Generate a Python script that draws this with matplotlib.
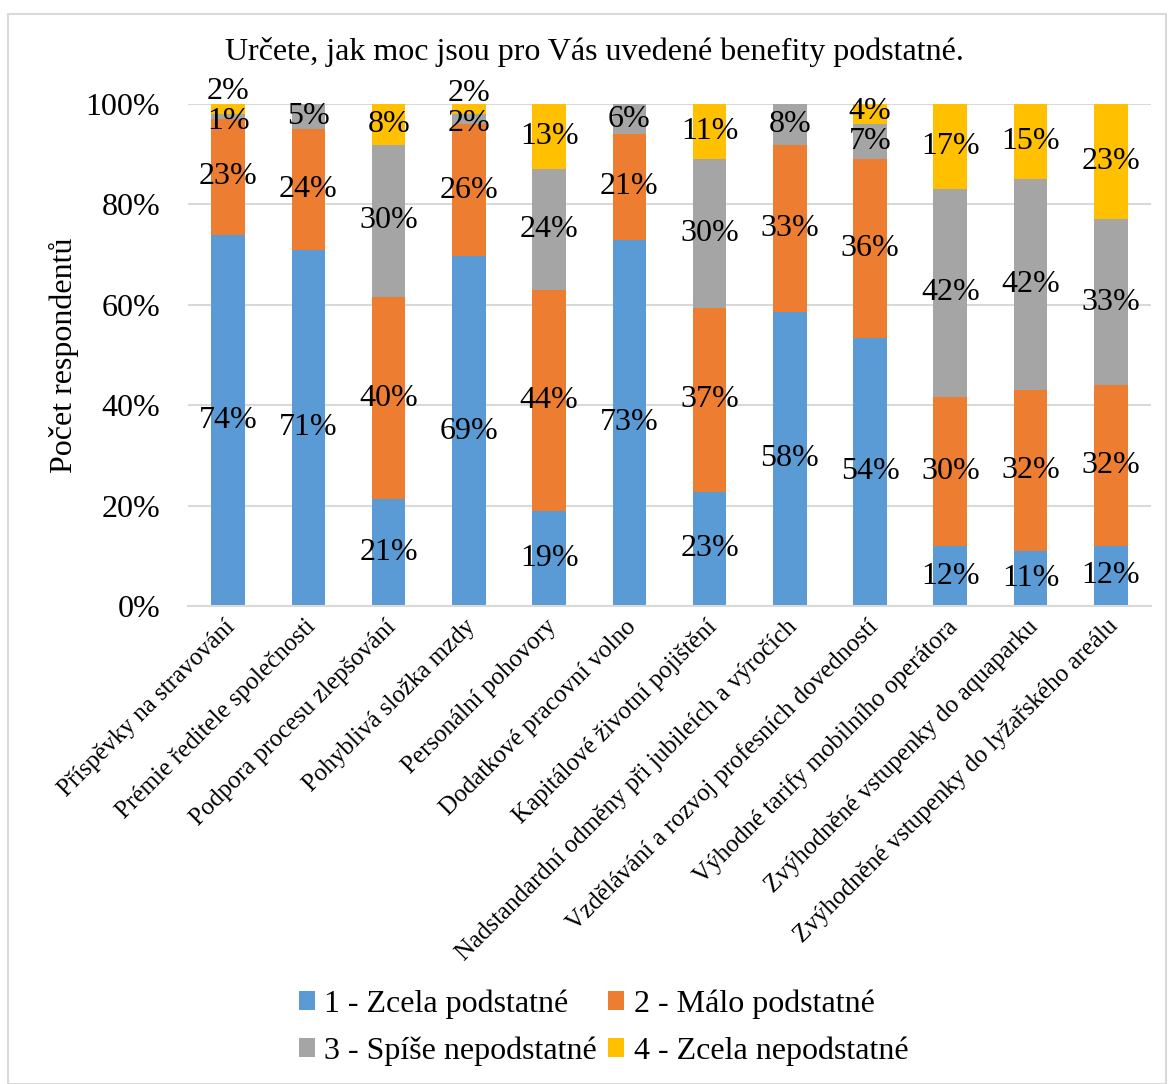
import numpy as np
import matplotlib.pyplot as plt
import matplotlib.transforms as mtransforms
from matplotlib.patches import Rectangle
from matplotlib.ticker import PercentFormatter

plt.rcParams['font.family'] = ['Liberation Serif', 'DejaVu Serif']

categories = [
    "Příspěvky na stravování",
    "Prémie ředitele společnosti",
    "Podpora procesu zlepšování",
    "Pohyblivá složka mzdy",
    "Personální pohovory",
    "Dodatkové pracovní volno",
    "Kapitálové životní pojištění",
    "Nadstandardní odměny při jubileích a výročích",
    "Vzdělávání a rozvoj profesních dovedností",
    "Výhodné tarify mobilního operátora",
    "Zvýhodněné vstupenky do aquaparku",
    "Zvýhodněné vstupenky do lyžařského areálu",
]

series_names = [
    "1 - Zcela podstatné",
    "2 - Málo podstatné",
    "3 - Spíše nepodstatné",
    "4 - Zcela nepodstatné",
]

zcela_podstatne = [74, 71, 21, 69, 19, 73, 23, 58, 54, 12, 11, 12]
malo_podstatne = [23, 24, 40, 26, 44, 21, 37, 33, 36, 30, 32, 32]
spise_nepodstatne = [1, 5, 30, 2, 24, 6, 30, 8, 7, 42, 42, 33]
zcela_nepodstatne = [2, 0, 8, 2, 13, 0, 11, 0, 4, 17, 15, 23]

colors = ["#5B9BD5", "#ED7D31", "#A5A5A5", "#FFC000"]

values = np.array([zcela_podstatne, malo_podstatne, spise_nepodstatne, zcela_nepodstatne], dtype=float)
shares = values / values.sum(axis=0)
bottoms = np.vstack([np.zeros(values.shape[1]), np.cumsum(shares, axis=0)[:-1]])
centers = bottoms + shares / 2

# push apart labels of thin neighbouring segments (upper one moves more)
min_gap = 0.06
label_y = centers.copy()
for j in range(values.shape[1]):
    for i in range(1, values.shape[0]):
        if values[i, j] == 0:
            continue
        prev = [k for k in range(i) if values[k, j] > 0]
        if not prev:
            continue
        p = prev[-1]
        gap = label_y[i, j] - label_y[p, j]
        if gap < min_gap:
            d = min_gap - gap
            label_y[i, j] += 0.8 * d
            label_y[p, j] -= 0.2 * d

fig = plt.figure(figsize=(11.7, 10.84), dpi=100)
ax = fig.add_axes([0.1607, 0.441, 0.823, 0.463])

x = np.arange(len(categories))
handles = []
for i, (name, color) in enumerate(zip(series_names, colors)):
    bars = ax.bar(x, shares[i], 0.42, bottom=bottoms[i], color=color, label=name, zorder=2)
    handles.append(bars)
    for j in range(len(categories)):
        if values[i, j] > 0:
            ax.text(x[j], label_y[i, j], f"{int(values[i, j])}%", ha='center', va='center',
                    fontsize=23, color='black', zorder=3)

ax.set_xlim(-0.5, len(categories) - 0.5)
ax.set_ylim(0, 1)
ax.set_yticks(np.arange(0, 1.01, 0.2))
ax.yaxis.set_major_formatter(PercentFormatter(1.0, decimals=0))
ax.tick_params(axis='y', labelsize=23, length=0, pad=20)
ax.tick_params(axis='x', length=0, pad=4)
ax.set_xticks(x)
ax.set_xticklabels(categories, rotation=45, ha='right', va='top',
                   rotation_mode='anchor', fontsize=18)
shift = mtransforms.ScaledTranslation(-0.04, -0.04, fig.dpi_scale_trans)
for lbl in ax.get_xticklabels():
    lbl.set_transform(lbl.get_transform() + shift)
ax.grid(axis='y', color='#D9D9D9', linewidth=1.5, zorder=0)
ax.set_axisbelow(True)
for side in ['top', 'right', 'left']:
    ax.spines[side].set_visible(False)
ax.spines['bottom'].set_color('#D9D9D9')
ax.spines['bottom'].set_linewidth(1.5)

ax.set_ylabel("Počet respondentů", fontsize=23, labelpad=5)
fig.text(0.508, 0.952, "Určete, jak moc jsou pro Vás uvedené benefity podstatné.",
         ha='center', va='center', fontsize=23)

# legend reads row-wise: 1 2 / 3 4
order = [0, 2, 1, 3]
fig.legend([handles[k] for k in order], [series_names[k] for k in order],
           loc='center', bbox_to_anchor=(0.516, 0.052), ncol=2, frameon=False,
           fontsize=23, handlelength=0.5, handleheight=0.5, handletextpad=0.3,
           columnspacing=0.35, labelspacing=0.55)

fig.patches.append(Rectangle((0.007, 0.0), 0.99, 0.987, transform=fig.transFigure,
                             fill=False, edgecolor='#D9D9D9', linewidth=1.5))

fig.savefig("out.png", dpi=100)
